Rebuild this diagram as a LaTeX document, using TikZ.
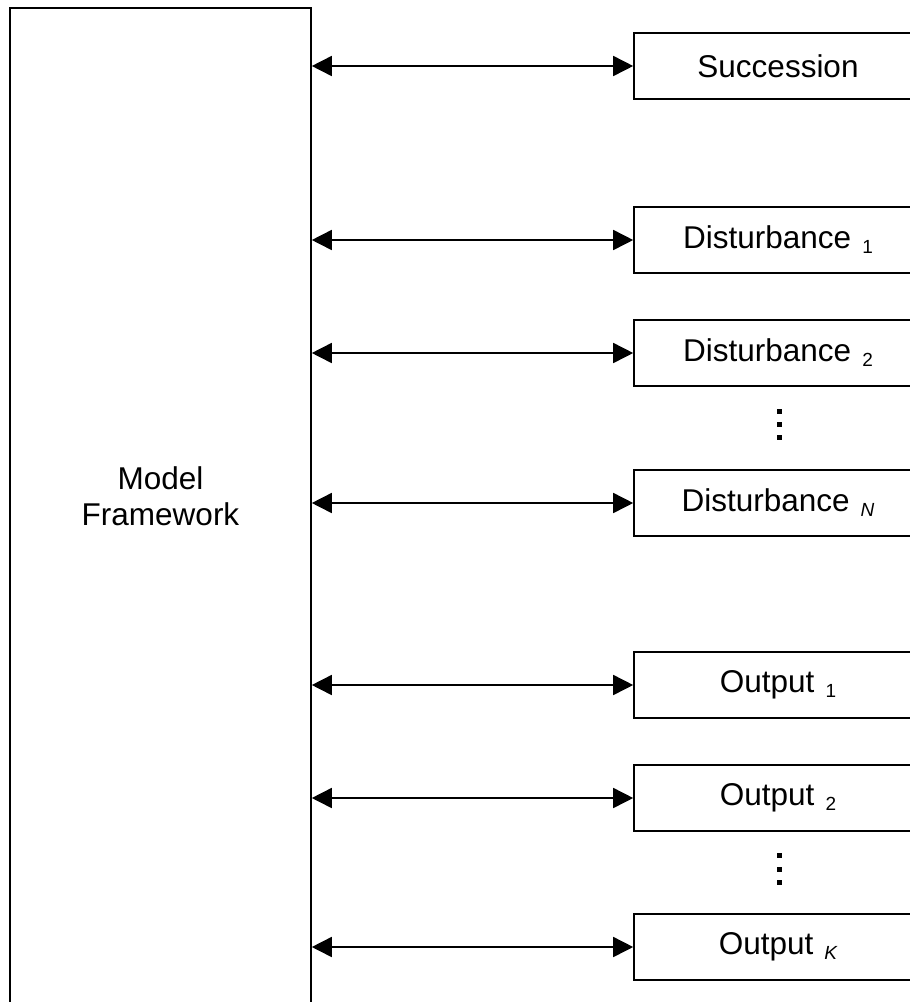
\documentclass[tikz,border=0pt]{standalone}
\usepackage{fontspec}
\setmainfont{Liberation Sans}
\usetikzlibrary{arrows.meta}
\newcommand{\subs}[1]{\hspace{11pt}{\fontsize{19pt}{19pt}\selectfont\raisebox{-5pt}{#1}}}
\begin{document}
\begin{tikzpicture}[x=1pt,y=-1pt,
  txt/.style={font=\fontsize{31.5pt}{36pt}\selectfont},
  rbox/.style={draw,line width=1.6pt,minimum width=288pt,minimum height=66pt,inner sep=0pt,txt},
  link/.style={line width=1.6pt,{Triangle[length=20pt,width=20pt]}-{Triangle[length=20pt,width=20pt]}},
  dot/.style={fill=black,minimum size=5pt,inner sep=0pt}]
\useasboundingbox (0,0) rectangle (910,1002);
\begin{scope}
\clip (0,0) rectangle (910,1002);
\node[draw,line width=1.6pt,minimum width=301pt,minimum height=1010pt,inner sep=0pt] (mf) at (160.5,513) {};
\node[txt,align=center,anchor=base] (mft) at (160.5,525) {Model\\Framework};
\node[rbox] (s)  at (778,66)  {Succession};
\node[rbox] (d1) at (778,240) {Disturbance\subs{1}};
\node[rbox] (d2) at (778,353) {Disturbance\subs{2}};
\node[rbox] (dn) at (778,503) {Disturbance\subs{\itshape N}};
\node[rbox] (o1) at (778,685) {Output\subs{1}};
\node[rbox] (o2) at (778,798) {Output\subs{2}};
\node[rbox] (ok) at (778,947) {Output\subs{\itshape K}};
\foreach \n in {s,d1,d2,dn,o1,o2,ok}
  \draw[link] (\n.west -| mf.east) -- (\n.west);
\node[dot] (a1) at (779,411) {};
\node[dot] (a2) at (779,424) {};
\node[dot] (a3) at (779,437) {};
\node[dot] (b1) at (779,855) {};
\node[dot] (b2) at (779,869) {};
\node[dot] (b3) at (779,882) {};
\end{scope}
\end{tikzpicture}
\end{document}
